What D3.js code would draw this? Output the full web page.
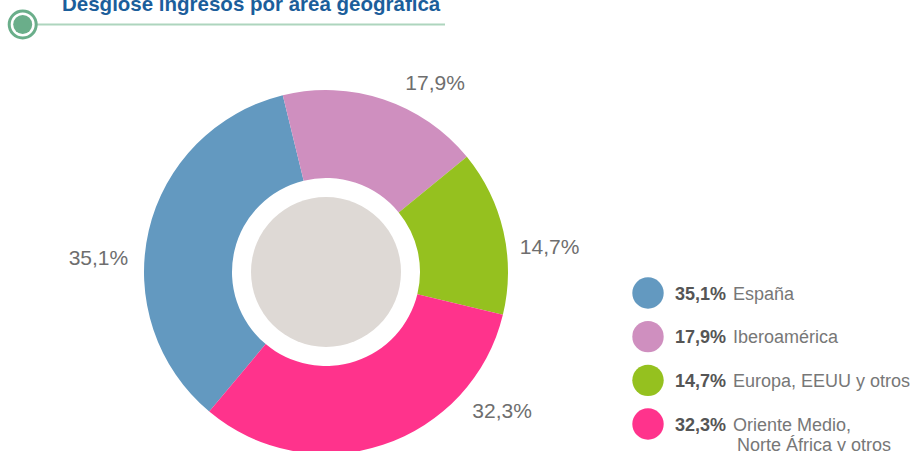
<!DOCTYPE html>
<html lang="es">
<head>
  <meta charset="UTF-8" />
  <title>Desglose ingresos por área geográfica</title>
  <script src="https://d3js.org/d3.v7.min.js"></script>
  <style>
    body {
      margin: 0;
      background: #fff;
      font-family: 'Liberation Sans', Arial, sans-serif;
    }
    svg { display: block; }
  </style>
</head>
<body>
  <div id="chart"></div>

  <script>
    // data
    const categories = ["España", "Iberoamérica", "Europa, EEUU y otros", "Oriente Medio, Norte África y otros"];
    const shares = [35.1, 17.9, 14.7, 32.3];
    const shareLabels = ["35,1%", "17,9%", "14,7%", "32,3%"];
    const colors = ["#6399c0", "#cf8fbf", "#95c11f", "#ff338c"];

    const width = 917, height = 451;
    const cx = 326, cy = 272;
    const outerR = 182, innerR = 94, coreR = 75;
    const start = 219.9 * Math.PI / 180;

    // manual nudges so the value labels sit where the original puts them
    const labelNudge = [-9.5, 11.4, 6.4, -33.6];   // degrees off the slice middle
    const labelRadius = [228, 219, 225, 224];

    const svg = d3.select("#chart")
      .append("svg")
      .attr("width", width)
      .attr("height", height);

    // header
    svg.append("text")
      .attr("x", 62)
      .attr("y", 11)
      .attr("font-size", "20.5px")
      .attr("font-weight", "bold")
      .attr("fill", "#1b5e9b")
      .text("Desglose ingresos por área geográfica");

    svg.append("line")
      .attr("x1", 36).attr("x2", 445)
      .attr("y1", 24.5).attr("y2", 24.5)
      .attr("stroke", "#aed5be")
      .attr("stroke-width", 2);

    svg.append("circle")
      .attr("cx", 22.7).attr("cy", 24.5).attr("r", 13.5)
      .attr("fill", "#fff")
      .attr("stroke", "#6aae8a")
      .attr("stroke-width", 3);

    svg.append("circle")
      .attr("cx", 22.7).attr("cy", 24.5).attr("r", 9.5)
      .attr("fill", "#6aae8a");

    // donut
    const pie = d3.pie()
      .sort(null)
      .value(d => d)
      .startAngle(start)
      .endAngle(start + 2 * Math.PI);

    const arc = d3.arc().innerRadius(innerR).outerRadius(outerR);

    const g = svg.append("g").attr("transform", `translate(${cx},${cy})`);
    const arcs = pie(shares);

    g.selectAll("path")
      .data(arcs)
      .enter()
      .append("path")
      .attr("d", arc)
      .attr("fill", (d, i) => colors[i]);

    g.append("circle")
      .attr("r", coreR)
      .attr("fill", "#ded9d5");

    g.selectAll("text.val")
      .data(arcs)
      .enter()
      .append("text")
      .attr("class", "val")
      .attr("text-anchor", "middle")
      .attr("dy", "0.36em")
      .attr("font-size", "21px")
      .attr("fill", "#6e6e6e")
      .attr("transform", (d, i) => {
        const a = (d.startAngle + d.endAngle) / 2 + labelNudge[i] * Math.PI / 180;
        const r = labelRadius[i];
        return `translate(${r * Math.sin(a)},${-r * Math.cos(a)})`;
      })
      .text((d, i) => shareLabels[i]);

    // legend
    const legendY = d3.scalePoint()
      .domain(d3.range(categories.length))
      .range([293, 424]);

    const legend = svg.selectAll("g.legend")
      .data(categories)
      .enter()
      .append("g")
      .attr("class", "legend")
      .attr("transform", (d, i) => `translate(648,${legendY(i)})`);

    legend.append("circle")
      .attr("r", 15.7)
      .attr("fill", (d, i) => colors[i]);

    const lt = legend.append("text")
      .attr("x", 27)
      .attr("y", 6.5)
      .attr("font-size", "18px");

    lt.append("tspan")
      .attr("font-weight", "bold")
      .attr("fill", "#555")
      .text((d, i) => shareLabels[i]);

    lt.each(function (d) {
      const t = d3.select(this);
      const parts = d.indexOf(", Norte") >= 0 ? [d.split(" Norte")[0], "Norte" + d.split(" Norte")[1]] : [d];
      t.append("tspan")
        .attr("fill", "#777")
        .attr("dx", 7)
        .text(parts[0]);
      if (parts[1]) {
        t.append("tspan")
          .attr("fill", "#777")
          .attr("x", 89)
          .attr("dy", 20)
          .text(parts[1]);
      }
    });
  </script>
</body>
</html>
